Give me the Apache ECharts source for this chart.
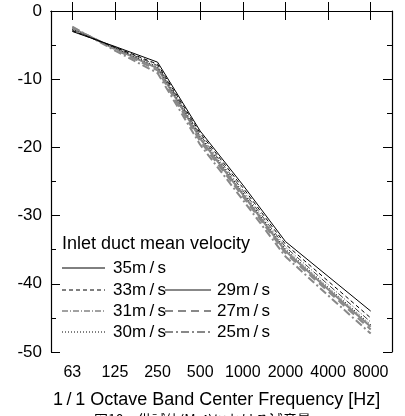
<!DOCTYPE html>
<html><head><meta charset="utf-8">
<script src="https://cdn.jsdelivr.net/npm/echarts@6/dist/echarts.min.js"></script>
<style>html,body{margin:0;padding:0;background:#fff}#c{width:405px;height:416px}</style>
</head><body><div id="c"></div>
<script>
const categories = ['63','125','250','500','1000','2000','4000','8000'];
const v35 = [-3.0, -5.2, -7.5, -17.6, -25.5, -33.8, -38.9, -44.0];
const v33 = [-2.9, -5.3, -7.8, -17.9, -25.9, -34.2, -39.6, -45.0];
const v31 = [-2.8, -5.3, -8.0, -18.2, -26.3, -34.6, -40.1, -45.6];
const v30 = [-2.7, -5.4, -8.2, -18.4, -26.6, -34.9, -40.5, -46.0];
const v29 = [-2.5, -5.5, -8.4, -18.7, -26.9, -35.2, -40.8, -46.3];
const v27 = [-2.4, -5.6, -8.7, -19.1, -27.2, -35.5, -41.1, -46.7];
const v25 = [-2.3, -5.8, -9.1, -19.6, -27.7, -36.0, -41.7, -47.3];
const seriesNames = ['35m/s','33m/s','31m/s','30m/s','29m/s','27m/s','25m/s'];
const yTicks = [0, -10, -20, -30, -40, -50];
const legendTitle = 'Inlet duct mean velocity';
const xTitle = '1/1 Octave Band Center Frequency [Hz]';

const styles = [
  {color:'#000', width:1, type:'solid'},
  {color:'#000', width:1, type:[4,3]},
  {color:'#444', width:1, type:[6,2,1,2]},
  {color:'#000', width:1, type:[1,2]},
  {color:'#888', width:2, type:'solid'},
  {color:'#888', width:2, type:[8,5]},
  {color:'#888', width:2, type:[8,3,2,3]}
];
const data = [v35,v33,v31,v30,v29,v27,v25];
const FONT = 'Liberation Sans, Arial, sans-serif';

const chart = echarts.init(document.getElementById('c'));
const series = data.map((d,i)=>({
  name: seriesNames[i], type:'line', data:d, symbol:'none', z: 10-i,
  lineStyle:{color:styles[i].color, width:styles[i].width, type:styles[i].type},
  xAxisIndex:0, yAxisIndex:0
}));

const legendItems = [
  {i:0, x1:62, x2:105, y:268, tx:113},
  {i:1, x1:62, x2:105, y:290, tx:113},
  {i:2, x1:62, x2:105, y:311, tx:113},
  {i:3, x1:62, x2:105, y:332, tx:113},
  {i:4, x1:165, x2:211, y:290, tx:217},
  {i:5, x1:165, x2:211, y:311, tx:217},
  {i:6, x1:165, x2:211, y:332, tx:217}
];
const graphic = [
  {type:'text', left:62, top:235, z:100, style:{text:legendTitle, font:'18px '+FONT, fill:'#000'}}
];
legendItems.forEach(it=>{
  const s = styles[it.i];
  graphic.push({type:'line', z:100, shape:{x1:it.x1,y1:it.y,x2:it.x2,y2:it.y},
    style:{stroke:s.color, lineWidth:s.width, lineDash: s.type==='solid'?null:s.type}});
  graphic.push({type:'text', z:100, x:it.tx, y:it.y, style:{text:seriesNames[it.i].replace('/','\u2009/\u2009'), font:'17px '+FONT, fill:'#000', verticalAlign:'middle'}});
});
graphic.push({type:'text', x:53, y:400, style:{text:xTitle.replace('/','\u2009/\u2009'), font:'18px '+FONT, fill:'#000', verticalAlign:'middle'}});
graphic.push({type:'text', left:'center', top:413, style:{text:'図10　供試体(M-4)における減音量', font:'14px "Noto Sans CJK JP", sans-serif', fill:'#000'}});

const axisLine = {show:true, lineStyle:{color:'#000', width:1.2}};
chart.setOption({
  animation:false,
  backgroundColor:'#fff',
  grid:{left:51, right:13, top:11, bottom:64, containLabel:false},
  xAxis:[
    {type:'category', data:categories, position:'bottom', boundaryGap:true,
     axisLine, axisTick:{show:true, inside:true, alignWithLabel:true, length:9, lineStyle:{color:'#000'}},
     axisLabel:{color:'#000', fontSize:16, fontFamily:FONT, margin:13, interval:0},
     splitLine:{show:false}},
    {type:'category', data:categories, position:'top', boundaryGap:true,
     axisLine, axisTick:{show:true, inside:true, alignWithLabel:true, length:9, lineStyle:{color:'#000'}},
     axisLabel:{show:false}, splitLine:{show:false}}
  ],
  yAxis:[
    {type:'value', min:-50, max:0, interval:10, position:'left',
     axisLine, axisTick:{show:true, inside:true, length:9, lineStyle:{color:'#000'}},
     minorTick:{show:true, splitNumber:2, length:5, lineStyle:{color:'#000'}},
     axisLabel:{color:'#000', fontSize:17, fontFamily:FONT, margin:9},
     splitLine:{show:false}},
    {type:'value', min:-50, max:0, interval:10, position:'right',
     axisLine, axisTick:{show:true, inside:true, length:9, lineStyle:{color:'#000'}},
     minorTick:{show:true, splitNumber:2, length:5, lineStyle:{color:'#000'}},
     axisLabel:{show:false}, splitLine:{show:false}}
  ],
  series,
  graphic
});
</script></body></html>
